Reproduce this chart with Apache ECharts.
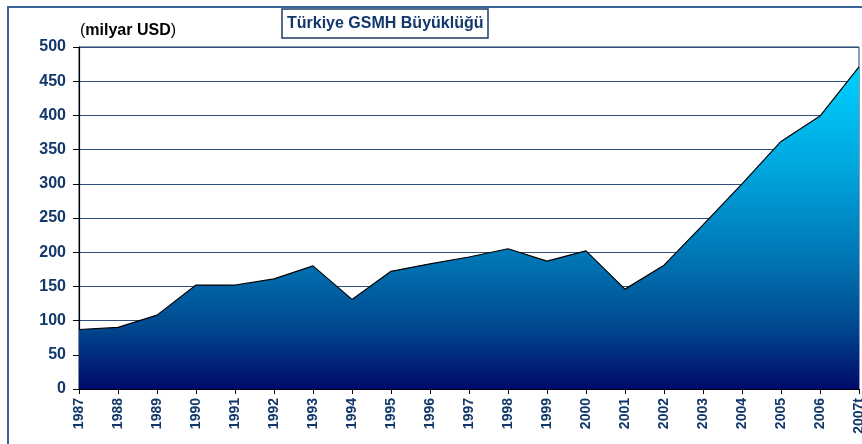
<!DOCTYPE html>
<html>
<head>
<meta charset="utf-8">
<script src="https://cdn.jsdelivr.net/npm/echarts@6/dist/echarts.min.js"></script>
<style>
  html, body { margin: 0; padding: 0; background: #fff; }
  #chart { width: 862px; height: 444px; }
</style>
</head>
<body>
<div id="chart"></div>
<script>
// yıllar ve GSMH (milyar USD)
var years = ['1987', '1988', '1989', '1990', '1991', '1992', '1993', '1994', '1995', '1996',
  '1997', '1998', '1999', '2000', '2001', '2002', '2003', '2004', '2005', '2006', '2007t'];
var gsmh = [87, 90, 108, 152, 152, 161, 180, 131, 172, 183,
  193, 205, 187, 202, 146, 181, 240, 300, 362, 399, 471];
var yTicks = { min: 0, max: 500, step: 50 };

var navy = '#12386b';
var chart = echarts.init(document.getElementById('chart'));

var option = {
  animation: false,
  backgroundColor: '#fff',
  title: {
    text: 'Türkiye GSMH Büyüklüğü',
    left: 282,
    top: 9,
    padding: [5, 5, 5, 5],
    borderColor: '#1f3a68',
    borderWidth: 1.5,
    textStyle: { fontFamily: 'Liberation Sans, Arial', fontWeight: 'bold', fontSize: 16, lineHeight: 19, color: navy }
  },
  graphic: [
    {
      // dış çerçeve
      type: 'rect',
      shape: { x: 8, y: 7, width: 900, height: 500 },
      style: { fill: 'none', stroke: '#3a6496', lineWidth: 2 },
      silent: true
    },
    {
      type: 'text',
      left: 80,
      top: 23,
      style: {
        text: '{p|(}{b|milyar USD}{p|)}',
        rich: {
          p: { fontFamily: 'Liberation Sans, Arial', fontSize: 16, fill: '#000' },
          b: { fontFamily: 'Liberation Sans, Arial', fontSize: 16, fontWeight: 'bold', fill: '#000' }
        }
      }
    }
  ],
  grid: {
    left: 79, right: 3, top: 47, bottom: 55,
    outerBoundsMode: 'none',
    show: true,
    borderColor: '#1f3a68',
    borderWidth: 1
  },
  xAxis: {
    type: 'category',
    data: years,
    boundaryGap: false,
    axisLine: { lineStyle: { color: '#000', width: 1.2 } },
    axisTick: { length: 5, lineStyle: { color: '#000' } },
    axisLabel: {
      interval: 0,
      rotate: 90,
      margin: 9,
      fontFamily: 'Liberation Sans, Arial',
      fontWeight: 'bold',
      fontSize: 14,
      color: navy
    }
  },
  yAxis: {
    type: 'value',
    min: yTicks.min,
    max: yTicks.max,
    interval: yTicks.step,
    axisLine: { show: true, lineStyle: { color: '#000', width: 1.2 } },
    axisTick: { show: true, length: 6, lineStyle: { color: '#000' } },
    axisLabel: {
      margin: 13,
      fontFamily: 'Liberation Sans, Arial',
      fontWeight: 'bold',
      fontSize: 16,
      color: navy
    },
    splitLine: { lineStyle: { color: '#2f4f7c', width: 1 } }
  },
  series: [
    {
      name: 'GSMH',
      type: 'line',
      data: gsmh,
      symbol: 'none',
      lineStyle: { color: '#000', width: 1.2 },
      areaStyle: {
        opacity: 1,
        color: {
          type: 'linear', x: 0, y: 0, x2: 0, y2: 1,
          colorStops: [
            { offset: 0, color: '#00d0ff' },
            { offset: 0.3, color: '#00a8e0' },
            { offset: 0.6, color: '#0074b4' },
            { offset: 0.8, color: '#004a90' },
            { offset: 1, color: '#000a6a' }
          ]
        }
      }
    }
  ]
};

option && chart.setOption(option);
</script>
</body>
</html>
